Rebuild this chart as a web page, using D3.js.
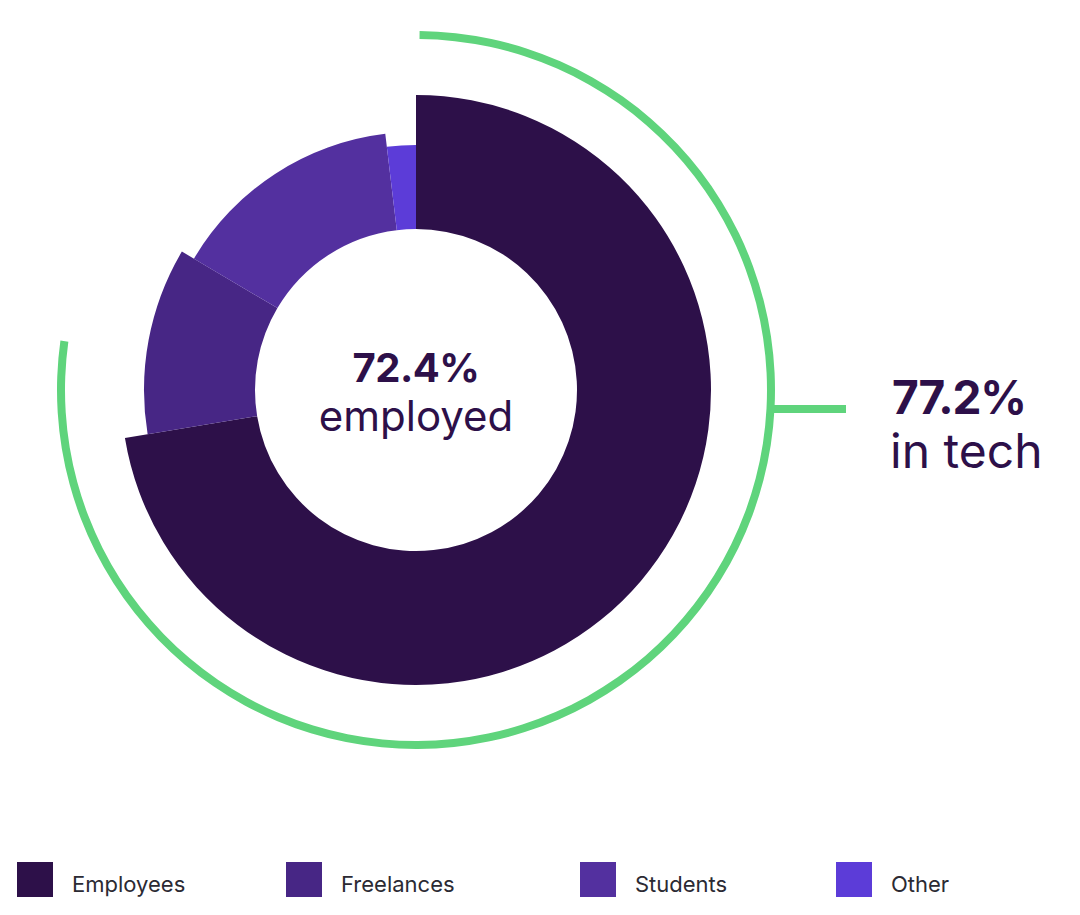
<!DOCTYPE html>
<html><head><meta charset="utf-8">
<script src="https://cdn.jsdelivr.net/npm/d3@7"></script>
<style>
html,body{margin:0;padding:0;background:#fff;}
svg{display:block;font-family:Inter,"Noto Sans",sans-serif;}
</style></head>
<body>
<svg id="chart" width="1080" height="915"></svg>
<script>
// ---- data ----
const categories = ["Employees", "Freelances", "Students", "Other"];
const shares = [72.4, 11.1, 14.6, 1.9];
const inTechShare = 77.2;
const centerValue = "72.4%";
const centerLabel = "employed";
const sideValue = "77.2%";
const sideLabel = "in tech";

// ---- layout / style ----
const colors = ["#2d1049", "#472685", "#53309f", "#5c3cd8"];
const outerRadii = [295, 272, 258, 245];
const innerRadius = 161;
const green = "#5fd47c";
const cx = 416, cy = 390;
const legendX = [17, 286, 580, 836];

const svg = d3.select("#chart");
const g = svg.append("g").attr("transform", `translate(${cx},${cy})`);

const data = categories.map((c, i) => ({ name: c, value: shares[i], color: colors[i], r: outerRadii[i] }));
const pie = d3.pie().sort(null).value(d => d.value);
const arcs = pie(data);

g.selectAll("path.slice").data(arcs).join("path")
  .attr("class", "slice")
  .attr("fill", d => d.data.color)
  .attr("d", d => d3.arc().innerRadius(innerRadius).outerRadius(d.data.r)(d));

// green "in tech" arc
const angle = d3.scaleLinear().domain([0, 100]).range([0, 2 * Math.PI]);
const greenR = 355;
g.append("path")
  .attr("fill", green)
  .attr("d", d3.arc().innerRadius(greenR - 4).outerRadius(greenR + 4)
    .startAngle(angle(0) + 0.01).endAngle(angle(inTechShare))());

g.append("line")
  .attr("x1", greenR - 2).attr("x2", 430)
  .attr("y1", 19).attr("y2", 19)
  .attr("stroke", green).attr("stroke-width", 8);

// center text
g.append("text").attr("x", 0).attr("y", -8)
  .attr("text-anchor", "middle").attr("font-size", 40).attr("font-weight", 700)
  .attr("fill", "#2d1049").attr("letter-spacing", -0.5).text(centerValue);
g.append("text").attr("x", 0).attr("y", 41)
  .attr("text-anchor", "middle").attr("font-size", 42).attr("font-weight", 400)
  .attr("fill", "#2d1049").text(centerLabel);

// side text
svg.append("text").attr("x", 892).attr("y", 414)
  .attr("font-size", 46).attr("font-weight", 700).attr("letter-spacing", -1.2)
  .attr("fill", "#2d1049").text(sideValue);
svg.append("text").attr("x", 890).attr("y", 468)
  .attr("font-size", 48).attr("font-weight", 400)
  .attr("fill", "#2d1049").text(sideLabel);

// legend
const leg = svg.selectAll("g.leg").data(data).join("g")
  .attr("class", "leg")
  .attr("transform", (d, i) => `translate(${legendX[i]},862)`);
leg.append("rect").attr("width", 36).attr("height", 35).attr("fill", d => d.color);
leg.append("text").attr("x", 55).attr("y", 30)
  .attr("font-size", 22).attr("fill", "#2b2a33").text(d => d.name);
</script>
</body></html>
